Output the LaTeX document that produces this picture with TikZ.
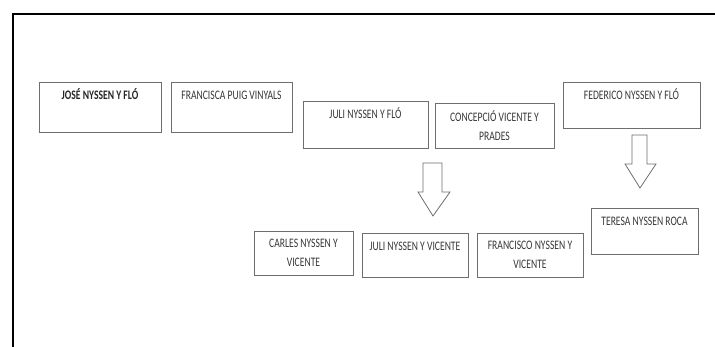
\documentclass[tikz,border=0pt]{standalone}
\usepackage{fontspec}
\setmainfont{Carlito}[FakeStretch=0.74]
\usepackage{tikz}

\definecolor{boxline}{RGB}{110,110,110}
\definecolor{nametext}{RGB}{55,55,55}
\newcommand{\namefont}{\fontsize{13}{19}\selectfont}

\begin{document}
\begin{tikzpicture}[x=1pt,y=-1pt]
\tikzset{
  person/.style={draw=boxline, line width=0.9pt, inner sep=0pt, align=center,
    font=\namefont, text=nametext},
  toptext/.style={text height=18pt, text depth=#1},
  blockarrow/.style={draw=boxline, line width=0.8pt, fill=white}
}
\useasboundingbox (0,0) rectangle (715,347);
% frame
\draw [black, line width=1.6pt] (13,347) -- (13,14) -- (715,14);
% first generation
\node [person, toptext=32pt, minimum width=122pt, font=\namefont\bfseries, text=black!85] (jose) at (100,107) {JOSÉ NYSSEN Y FLÓ};
\node [person, toptext=32pt, minimum width=121pt] (francisca) at (231.5,107) {FRANCISCA PUIG VINYALS};
\node [person, toptext=29pt, minimum width=125pt] (julif) at (365.5,124.5) {JULI NYSSEN Y FLÓ};
\node [person, minimum width=119pt, minimum height=45pt] (concepcio) at (494.5,125.5) {CONCEPCIÓ VICENTE Y\\PRADES};
\node [person, toptext=28pt, minimum width=137pt] (federico) at (631.5,105) {FEDERICO NYSSEN Y FLÓ};
% arrows
\draw [blockarrow] (423,163) -- (442,163) -- (442,192) -- (450,192) -- (433,216)
  -- (418,192) -- (423,192) -- cycle;
\draw [blockarrow] (632,135) -- (647,135) -- (647,164) -- (656,164) -- (640,188)
  -- (625,164) -- (632,164) -- cycle;
% children
\node [person, minimum width=99pt, minimum height=44pt] (carles) at (303.5,253) {CARLES NYSSEN Y\\VICENTE};
\node [person, toptext=26pt, minimum width=106pt] (juliv) at (415,255) {JULI NYSSEN Y VICENTE};
\node [person, minimum width=106pt, minimum height=44pt] (francisco) at (530,255) {FRANCISCO NYSSEN Y\\VICENTE};
\node [person, toptext=28pt, minimum width=107pt] (teresa) at (644.5,231) {TERESA NYSSEN ROCA};
\end{tikzpicture}
\end{document}
